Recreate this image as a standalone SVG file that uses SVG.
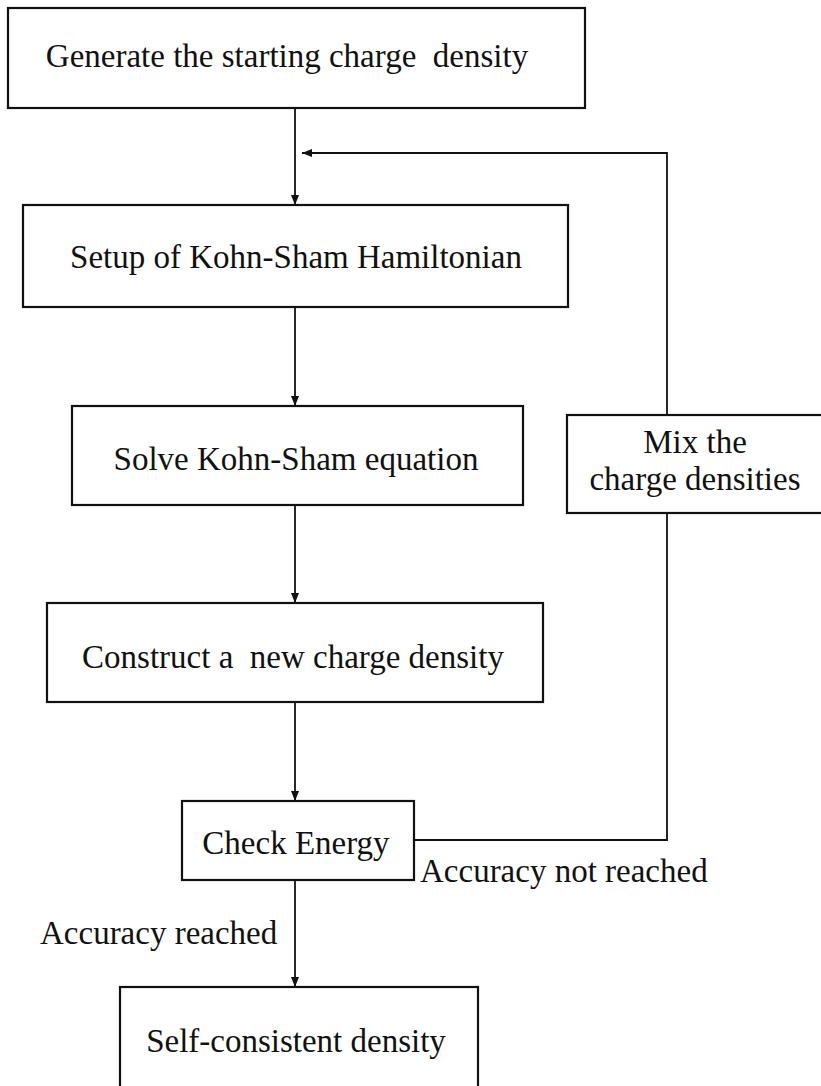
<svg xmlns="http://www.w3.org/2000/svg" width="821" height="1086" viewBox="0 0 821 1086">
<style>
.box{fill:#fff;stroke:#111;stroke-width:2.2}
.t{font-family:"Liberation Serif","Times New Roman",serif;font-size:33px;fill:#111;text-anchor:middle}
.l{font-family:"Liberation Serif","Times New Roman",serif;font-size:33px;fill:#111}
.c{fill:none;stroke:#111;stroke-width:1.8}
</style>
<defs>
<marker id="ah" markerWidth="10" markerHeight="8" refX="10" refY="4" orient="auto" markerUnits="userSpaceOnUse">
<path d="M0,0 L10,4 L0,8 Z" fill="#111"/>
</marker>
</defs>
<rect width="821" height="1086" fill="#fff"/>
<g id="connectors">
<line class="c" x1="295" y1="108" x2="295" y2="205" marker-end="url(#ah)"/>
<polyline class="c" points="667,415 667,153 302,153" marker-end="url(#ah)"/>
<line class="c" x1="295" y1="307" x2="295" y2="406" marker-end="url(#ah)"/>
<line class="c" x1="295" y1="505" x2="295" y2="603" marker-end="url(#ah)"/>
<line class="c" x1="295" y1="702" x2="295" y2="801" marker-end="url(#ah)"/>
<polyline class="c" points="414,840 667,840 667,513"/>
<line class="c" x1="295" y1="880" x2="295" y2="987" marker-end="url(#ah)"/>
</g>
<g id="n1"><rect class="box" x="8" y="8" width="577" height="100"/><text class="t" x="287" y="67" xml:space="preserve">Generate the starting charge  density</text></g>
<g id="n2"><rect class="box" x="23" y="205" width="545" height="102"/><text class="t" x="296" y="268">Setup of Kohn-Sham Hamiltonian</text></g>
<g id="n3"><rect class="box" x="72" y="406" width="451" height="99"/><text class="t" x="296" y="470">Solve Kohn-Sham equation</text></g>
<g id="n4"><rect class="box" x="47" y="603" width="496" height="99"/><text class="t" x="293" y="668" xml:space="preserve">Construct a  new charge density</text></g>
<g id="mix"><rect class="box" x="567" y="415" width="260" height="98"/><text class="t" x="695" y="453">Mix the</text><text class="t" x="695" y="490">charge densities</text></g>
<g id="check"><rect class="box" x="182" y="801" width="232" height="79"/><text class="t" x="296" y="854">Check Energy</text></g>
<g id="self"><rect class="box" x="120" y="987" width="358" height="110"/><text class="t" x="296" y="1052">Self-consistent density</text></g>
<g id="labels">
<text class="l" x="420" y="882">Accuracy not reached</text>
<text class="l" x="40" y="944">Accuracy reached</text>
</g>
</svg>
